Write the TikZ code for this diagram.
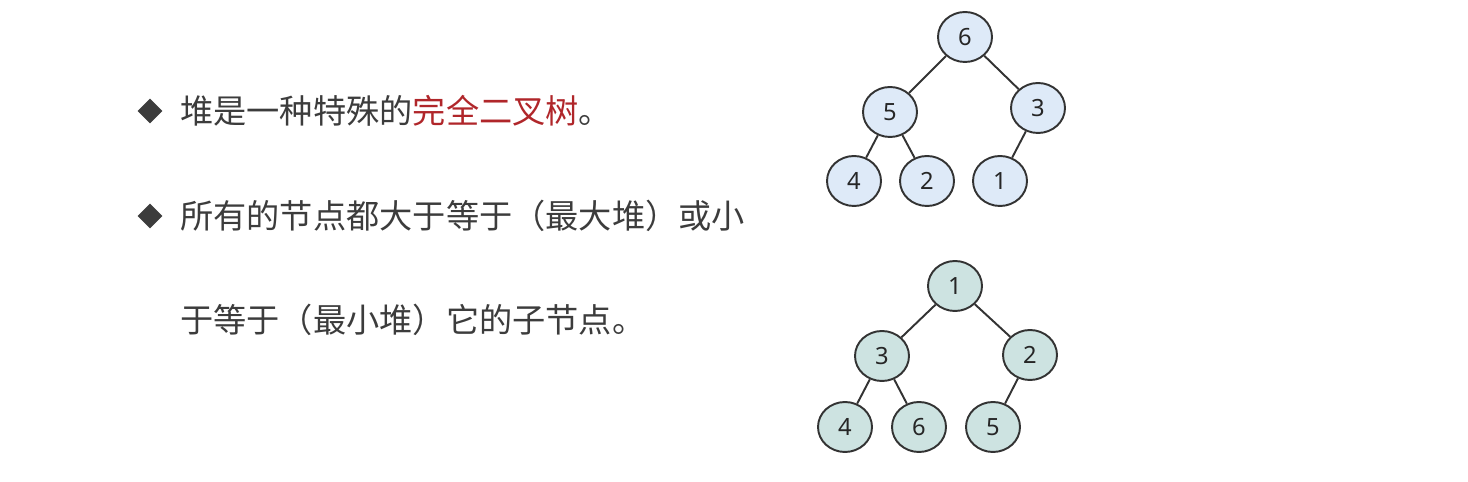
\documentclass[tikz,border=0pt]{standalone}
\usepackage{fontspec}
\setmainfont{Noto Sans}
\newfontfamily\cjk{Noto Sans CJK SC}
\usetikzlibrary{shapes.geometric}
\definecolor{txtgray}{HTML}{3C3C3C}
\definecolor{keyred}{HTML}{B0262A}
\definecolor{maxfill}{HTML}{DEEAF8}
\definecolor{minfill}{HTML}{CDE3E1}
\definecolor{edgegray}{HTML}{333333}
\begin{document}
\begin{tikzpicture}[x=0.02cm,y=-0.02cm,
	heapnode/.style={ellipse,draw=edgegray,line width=1.1pt,minimum width=1.08cm,minimum height=1cm,inner sep=0pt,font=\fontsize{13.5}{15}\selectfont,text=black!85},
	maxnode/.style={heapnode,fill=maxfill},
	minnode/.style={heapnode,fill=minfill},
	treeedge/.style={draw=edgegray,line width=1.1pt},
	bullet/.style={diamond,fill=txtgray,minimum size=0.5cm,inner sep=0pt},
	line/.style={anchor=west,inner sep=0pt,text=txtgray,font=\cjk\fontsize{18.9}{22}\selectfont}]
	\useasboundingbox (0,0) rectangle (1468,482);
	% text on the left
	\node[bullet] (b1) at (150,111) {};
	\node[line] (l1) at (180,111) {堆是一种特殊的\textcolor{keyred}{完全二叉树}。};
	\node[bullet] (b2) at (150,216) {};
	\node[line] (l2) at (180,216) {所有的节点都大于等于（最大堆）或小};
	\node[line] (l3) at (180,320) {于等于（最小堆）它的子节点。};
	% max heap
	\node[maxnode] (a6) at (965,37) {6};
	\node[maxnode] (a5) at (890,112) {5};
	\node[maxnode] (a3) at (1038,108) {3};
	\node[maxnode] (a4) at (854,181) {4};
	\node[maxnode] (a2) at (927,181) {2};
	\node[maxnode] (a1) at (1000,181) {1};
	\draw[treeedge] (a6) -- (a5);
	\draw[treeedge] (a6) -- (a3);
	\draw[treeedge] (a5) -- (a4);
	\draw[treeedge] (a5) -- (a2);
	\draw[treeedge] (a3) -- (a1);
	% min heap
	\node[minnode] (c1) at (955,286) {1};
	\node[minnode] (c3) at (882,356) {3};
	\node[minnode] (c2) at (1030,355) {2};
	\node[minnode] (c4) at (845,427) {4};
	\node[minnode] (c6) at (919,427) {6};
	\node[minnode] (c5) at (993,427) {5};
	\draw[treeedge] (c1) -- (c3);
	\draw[treeedge] (c1) -- (c2);
	\draw[treeedge] (c3) -- (c4);
	\draw[treeedge] (c3) -- (c6);
	\draw[treeedge] (c2) -- (c5);
\end{tikzpicture}
\end{document}
